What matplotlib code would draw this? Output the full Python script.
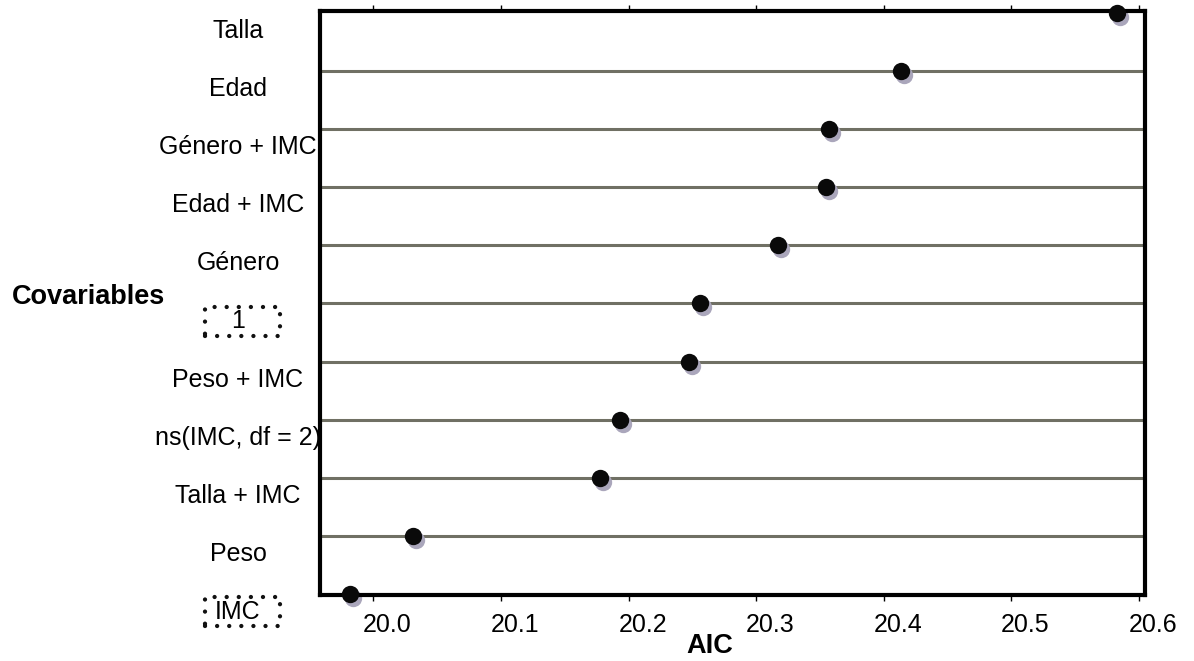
import numpy as np
import matplotlib.pyplot as plt
import matplotlib.transforms as mtransforms
from matplotlib.patches import Rectangle

plt.rcParams['font.family'] = ['Liberation Sans', 'DejaVu Sans']

# bottom to top
covariables = ['IMC', 'Peso', 'Talla + IMC', 'ns(IMC, df = 2)', 'Peso + IMC', '1',
               'Género', 'Edad + IMC', 'Género + IMC', 'Edad', 'Talla']
aic = [19.982, 20.031, 20.178, 20.193, 20.247, 20.256,
       20.317, 20.355, 20.357, 20.4135, 20.583]
boxed = ['1', 'IMC']
xticks = [20.0, 20.1, 20.2, 20.3, 20.4, 20.5, 20.6]

fig = plt.figure(figsize=(11.94, 6.61), dpi=100)
ax = fig.add_axes([0.268, 0.0998, 0.691, 0.8836])

pos = np.arange(len(covariables))

# reference lines
for p in pos[1:-1]:
    ax.axhline(p, color='#707064', lw=2.2, zorder=1)

# shadow + dots
shadow = ax.transData + mtransforms.ScaledTranslation(3/100, -4/100, fig.dpi_scale_trans)
ax.plot(aic, pos, 'o', ms=12.5, color='#aaa6bb', mec='none', transform=shadow,
        zorder=2, clip_on=False)
ax.plot(aic, pos, 'o', ms=12.5, color='#0a0a0a', mec='none', zorder=3, clip_on=False)

ax.set_xlim(19.9582, 20.6047)
ax.set_ylim(-0.02, 10.035)

for s in ax.spines.values():
    s.set_linewidth(3)
ax.set_yticks([])
ax.set_xticks(xticks)
ax.set_xticklabels(['%.1f' % t for t in xticks], fontsize=18)
ax.tick_params(axis='x', top=True, bottom=True, direction='out', length=4,
               width=1, pad=9)
off = mtransforms.ScaledTranslation(14/100, 0, fig.dpi_scale_trans)
for lab in ax.get_xticklabels():
    lab.set_transform(lab.get_transform() + off)

# y labels placed below each line
bt = mtransforms.blended_transform_factory(fig.transFigure, ax.transData)
for p, name in zip(pos, covariables):
    ax.text(0.1993, p - 0.31, name, transform=bt, ha='center', va='center',
            fontsize=18, clip_on=False)
    if name in boxed:
        r = Rectangle((0.1717, p - 0.31 - 0.25), 0.0628, 0.5, transform=bt,
                      fill=False, ec='#111111', lw=3.1, linestyle=(0, (0.01, 2.8)),
                      capstyle='round', clip_on=False)
        fig.add_artist(r)

fig.text(0.074, 1 - 297/661, 'Covariables', fontsize=19.5, fontweight='bold',
         ha='center', va='center')
fig.text(0.594, 1 - 646/661, 'AIC', fontsize=19.5, fontweight='bold',
         ha='center', va='center')

fig.savefig('out.png', dpi=100)
